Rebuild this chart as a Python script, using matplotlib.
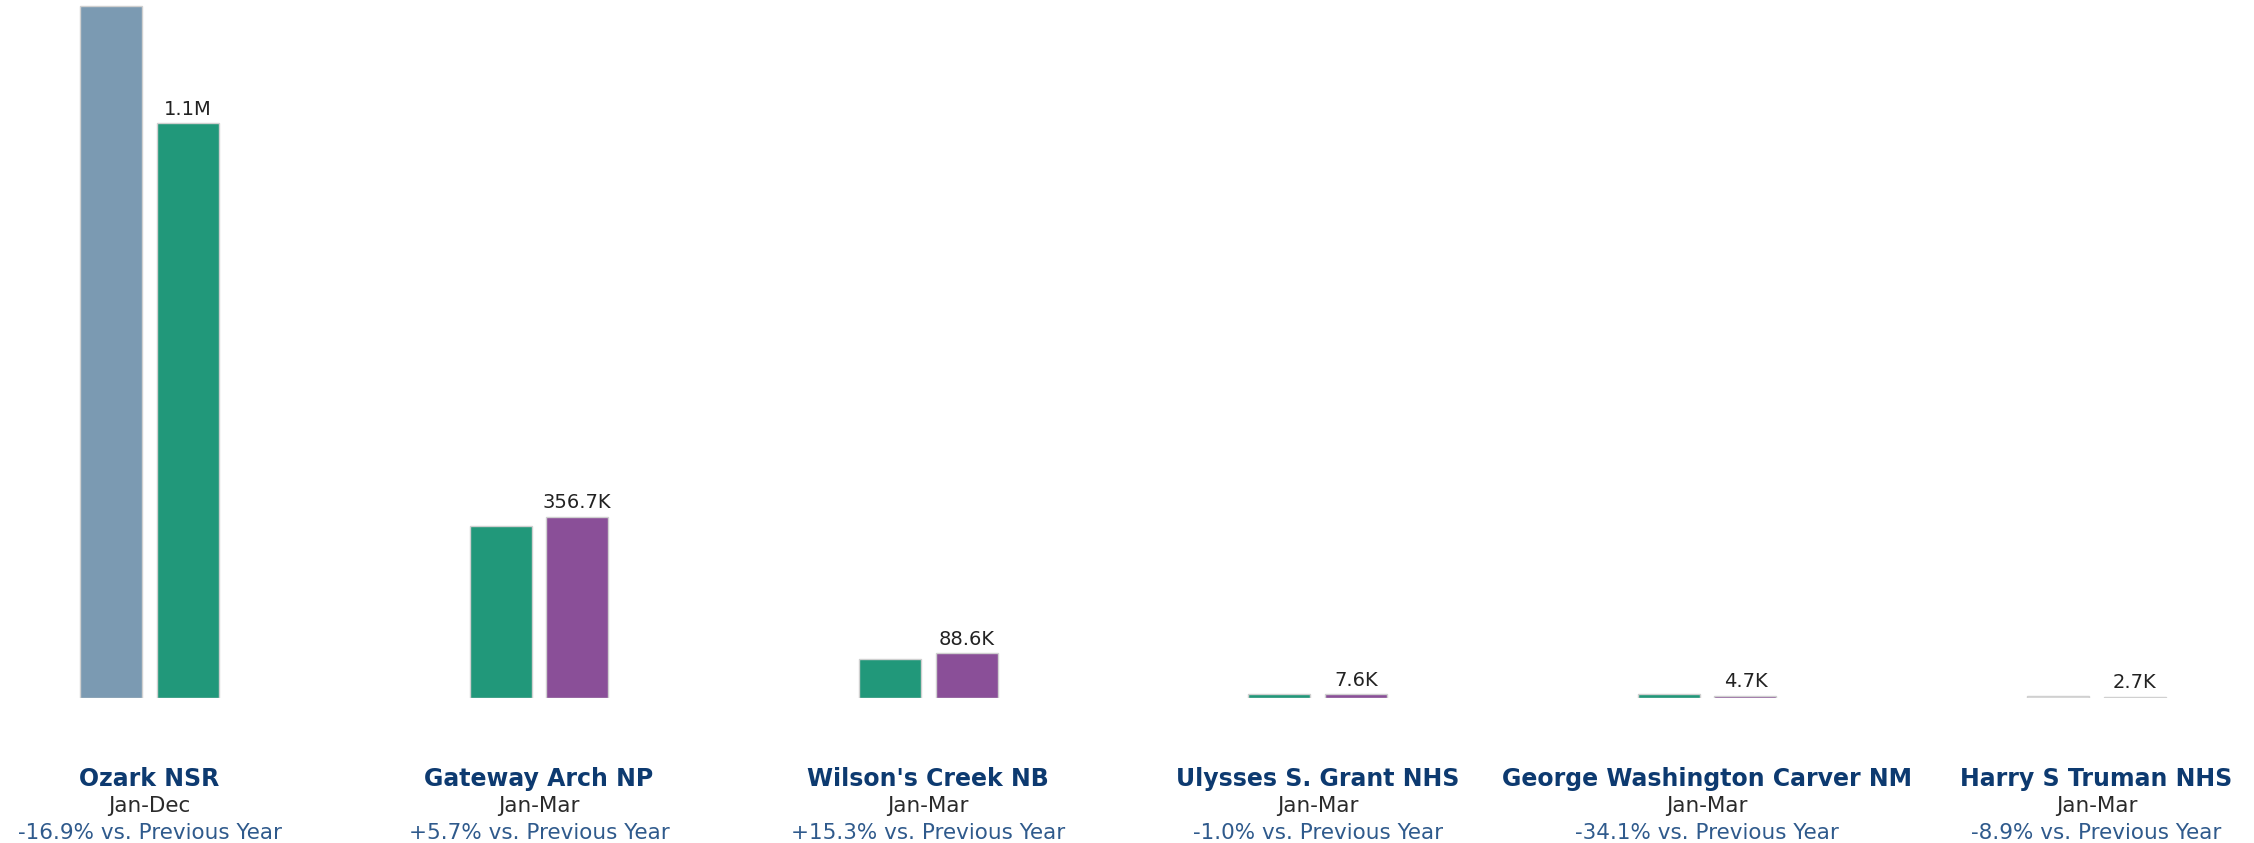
import matplotlib.pyplot as plt
import matplotlib.transforms as mtransforms

# Dữ liệu (visitors)
parks = ["Ozark NSR", "Gateway Arch NP", "Wilson's Creek NB",
         "Ulysses S. Grant NHS", "George Washington Carver NM", "Harry S Truman NHS"]
periods = ["Jan-Dec", "Jan-Mar", "Jan-Mar", "Jan-Mar", "Jan-Mar", "Jan-Mar"]
previous = [1361000, 337500, 76800, 7680, 7130, 2960]
current = [1131000, 356700, 88600, 7600, 4700, 2700]
changes = ["-16.9%", "+5.7%", "+15.3%", "-1.0%", "-34.1%", "-8.9%"]
prev_colors = ["#7b9ab2", "#21987a", "#21987a", "#21987a", "#21987a", "#dcdcdc"]
cur_colors = ["#21987a", "#8a4f98", "#8a4f98", "#8a4f98", "#8a4f98", "#dcdcdc"]


def fmt(v):
    if v >= 1e6:
        return f"{v / 1e6:.1f}M"
    return f"{v / 1e3:.1f}K"


W, H = 2254, 843
fig = plt.figure(figsize=(W / 100, H / 100), dpi=100)
ax = fig.add_axes([0, 145 / H, 1, 1 - 145 / H])

step = 389.4
x0 = 149.5
bw = 62 / step
off = 38.3 / step
xs = list(range(len(parks)))

ax.bar([x - off for x in xs], previous, width=bw, color=prev_colors,
       edgecolor="#d0d0d0", linewidth=1)
ax.bar([x + off for x in xs], current, width=bw, color=cur_colors,
       edgecolor="#d0d0d0", linewidth=1)

for x, v in zip(xs, current):
    ax.annotate(fmt(v), (x + off, v), xytext=(0, 6), textcoords="offset points",
                ha="center", va="baseline", fontsize=14, color="#222222")

ax.set_xlim(-x0 / step, (W - x0) / step)
ax.set_ylim(0, 698 / 0.5083 * 1000)
ax.axis("off")

# Nhãn dưới biểu đồ
tr = mtransforms.blended_transform_factory(ax.transData, fig.transFigure)
for x, name, per, ch in zip(xs, parks, periods, changes):
    ax.text(x, (H - 786) / H, name, transform=tr, ha="center", va="baseline",
            fontsize=17, fontweight="bold", color="#0d3a70", clip_on=False)
    ax.text(x, (H - 812) / H, per, transform=tr, ha="center", va="baseline",
            fontsize=15.5, color="#2a2a2a", clip_on=False)
    ax.text(x, (H - 839) / H, ch + " vs. Previous Year", transform=tr,
            ha="center", va="baseline", fontsize=15.5, color="#2f5a8c",
            clip_on=False)

fig.savefig("out.png", dpi=100)
